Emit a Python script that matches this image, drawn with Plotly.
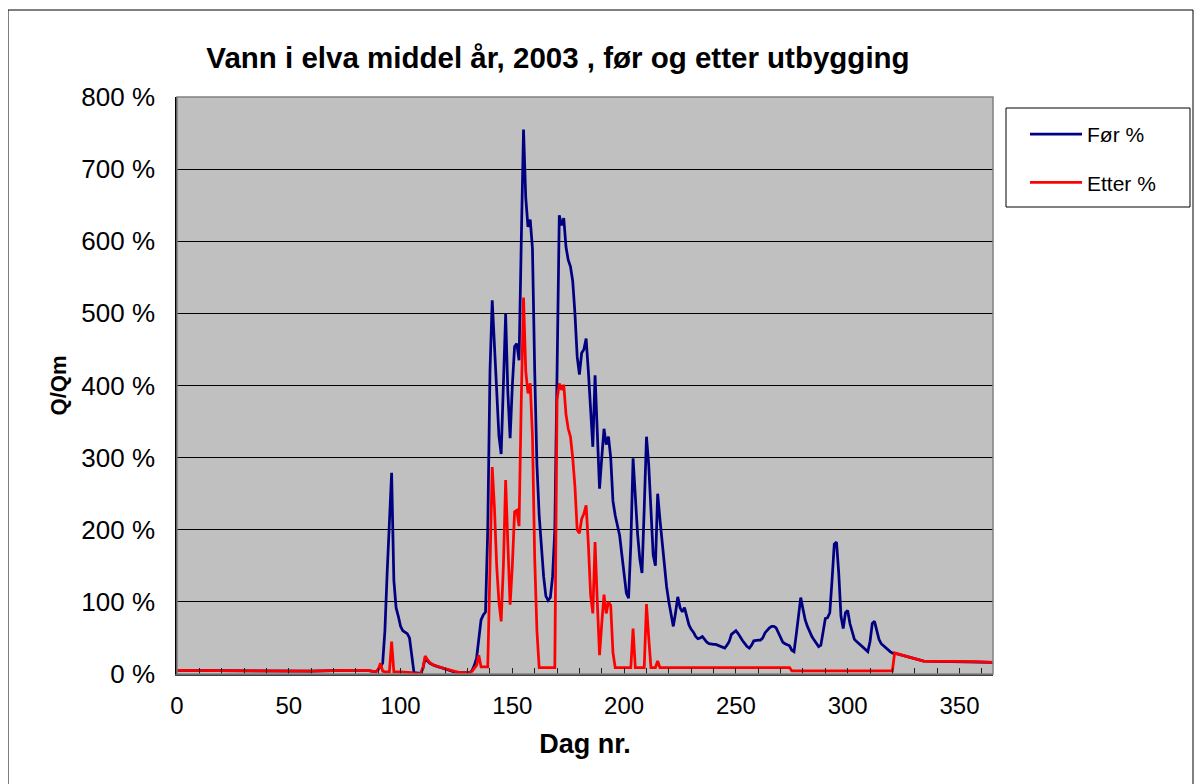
import plotly.graph_objects as go

# ---- data ----
days_for = [0, 20, 40, 60, 75, 85, 89, 90, 91, 92, 93, 94, 95, 96, 97, 98, 99, 100, 101, 102, 103, 104, 105, 106,
            109, 110, 111, 112, 113, 115, 118, 121, 124, 127, 131, 132, 133, 134, 135, 136, 137, 138, 139, 140,
            141, 142, 143, 144, 145, 146, 147, 148, 149, 150, 151, 152, 153, 154, 155, 156, 157, 158, 159, 160,
            161, 162, 163, 164, 165, 166, 167, 168, 169, 170, 171, 172, 173, 174, 175, 176, 177, 178, 179, 180,
            181, 182, 183, 184, 185, 186, 187, 188, 189, 190, 191, 192, 193, 194, 195, 196, 197, 198, 199, 200,
            201, 202, 203, 204, 205, 206, 207, 208, 209, 210, 211, 212, 213, 214, 215, 216, 217, 218, 219, 220,
            221, 222, 223, 224, 225, 226, 227, 228, 229, 230, 231, 232, 233, 234, 235, 236, 237, 238, 239, 240,
            241, 242, 243, 244, 245, 246, 247, 248, 249, 250, 251, 252, 253, 254, 255, 256, 257, 258, 259, 260,
            261, 262, 263, 264, 265, 266, 267, 268, 269, 270, 271, 272, 273, 274, 275, 276, 277, 278, 279, 280,
            281, 282, 283, 284, 285, 286, 287, 288, 289, 290, 291, 292, 293, 294, 295, 296, 297, 298, 299, 300,
            301, 302, 303, 304, 305, 306, 307, 308, 309, 310, 311, 312, 313, 314, 315, 316, 317, 318, 319, 320,
            321, 334, 357, 365]
pct_for = [5, 4.5, 4, 4, 5, 5, 3, 6, 10, 15, 60, 140, 220, 279, 130, 92, 80, 66, 60, 58, 56, 50, 25, 2,
           1, 8, 22, 18, 15, 12, 9, 6, 3, 2, 2, 5, 12, 22, 50, 75, 82, 86, 200, 420,
           518, 450, 380, 330, 305, 420, 499, 390, 327, 400, 454, 458, 435, 600, 755, 660, 620, 630, 590, 420,
           290, 220, 170, 135, 108, 102, 106, 135, 200, 420, 636, 622, 632, 592, 574, 565, 545, 500, 440, 415,
           445, 450, 465, 420, 360, 315, 414, 340, 257, 300, 340, 318, 329, 300, 240, 220, 205, 192, 165, 135,
           112, 105, 180, 299, 240, 195, 160, 140, 230, 329, 290, 232, 165, 150, 250, 215, 180, 150, 121, 100,
           82, 66, 85, 107, 92, 86, 92, 80, 68, 62, 58, 52, 49, 50, 52, 48, 44, 42, 41, 41,
           41, 40, 38, 37, 36, 40, 45, 55, 58, 60, 56, 50, 46, 42, 38, 36, 40, 46, 47, 47,
           47, 50, 57, 61, 64, 66, 66, 64, 57, 50, 44, 42, 41, 39, 33, 31, 55, 85, 106, 90,
           75, 66, 58, 52, 47, 42, 38, 40, 62, 77, 78, 85, 130, 180, 183, 140, 80, 63, 85, 88,
           70, 58, 48, 45, 42, 40, 37, 34, 31, 45, 70, 73, 62, 48, 42, 39, 36, 33, 31, 29,
           29, 18, 17, 16]

days_etter = [0, 20, 40, 60, 75, 85, 89, 90, 91, 92, 93, 95, 96, 97, 100, 105, 106, 109, 110, 111, 112, 113, 114,
              115, 117, 119, 121, 123, 125, 127, 131, 132, 133, 134, 135, 136, 139, 140, 141, 142, 143, 144, 145,
              146, 147, 148, 149, 150, 151, 152, 153, 154, 155, 156, 157, 158, 159, 160, 161, 162, 169, 170, 171,
              172, 173, 174, 175, 176, 177, 178, 179, 180, 181, 182, 183, 184, 185, 186, 187, 188, 189, 190, 191,
              192, 193, 194, 195, 196, 203, 204, 205, 209, 210, 211, 212, 214, 215, 216, 274, 275, 320, 321, 334,
              357, 365]
pct_etter = [5, 4.5, 4, 4, 5, 5, 3, 6, 15, 4, 3, 3, 45, 3, 3, 2, 0.5, 0.5, 8, 25, 20, 16, 14,
             12, 10, 8, 6, 4, 3, 2, 2, 4, 8, 12, 26, 10, 10, 150, 287, 230, 150, 100, 73,
             150, 269, 180, 96, 150, 225, 227, 205, 380, 522, 420, 389, 403, 330, 160, 60, 9, 9, 380, 403,
             394, 401, 360, 340, 329, 300, 260, 200, 195, 215, 222, 234, 180, 110, 84, 183, 100, 26, 70, 110,
             84, 100, 95, 30, 9, 9, 63, 9, 9, 97, 50, 9, 9, 18, 9, 9, 4.5, 4.5, 29, 18,
             17, 16]

y_ticks = [0, 100, 200, 300, 400, 500, 600, 700, 800]
y_tick_text = ["0 %", "100 %", "200 %", "300 %", "400 %", "500 %", "600 %", "700 %", "800 %"]
x_ticks = [0, 50, 100, 150, 200, 250, 300, 350]

title_text = "Vann i elva middel år, 2003 , før og etter utbygging"
FONT = "Liberation Sans, Arial, sans-serif"

# ---- geometry (figure pixels; the page puts the figure 8 px in from the corner) ----
OFF = 8
W, H = 1202 - OFF, 784 - OFF
L, R, T, B = 177 - OFF, 993 - OFF, 97 - OFF, 674 - OFF
pw, ph = R - L, B - T


def px(x):  # screen x -> paper
    return (x - OFF - L) / pw


def py(y):  # screen y -> paper
    return (B - (y - OFF)) / ph


fig = go.Figure()
fig.add_trace(go.Scatter(x=days_for, y=pct_for, mode="lines", name="Før %",
                         legendgroup="a", line=dict(color="#000080", width=2.75)))
fig.add_trace(go.Scatter(x=days_etter, y=pct_etter, mode="lines", name="Etter %",
                         legendgroup="b", line=dict(color="#FF0000", width=2.75)))

fig.update_layout(
    width=W, height=H,
    margin=dict(l=L, r=W - R, t=T, b=H - B, pad=0),
    paper_bgcolor="white",
    plot_bgcolor="#C0C0C0",
    font=dict(family=FONT, color="black"),
    title=dict(text=title_text, font=dict(size=29.5, family=FONT, color="black", weight="bold"),
               x=(558 - OFF) / W, xanchor="center", xref="container",
               y=1 - (58 - OFF) / H, yanchor="middle", yref="container"),
    showlegend=True,
    legend=dict(x=px(1025), y=py(114), xanchor="left", yanchor="top",
                font=dict(size=21, family=FONT), bgcolor="rgba(0,0,0,0)", itemwidth=52,
                borderwidth=0, traceorder="grouped", tracegroupgap=18),
    xaxis=dict(range=[0, 365], tickvals=x_ticks, showgrid=False, zeroline=False,
               showline=True, linecolor="#404040", linewidth=1.5,
               ticks="inside", ticklen=6, tickcolor="#202020",
               minor=dict(dtick=10, ticks="inside", ticklen=6, tickcolor="#202020", showgrid=False),
               tickfont=dict(size=24, family=FONT), ticklabelstandoff=9,
               title=dict(text="Dag nr.", font=dict(size=27, family=FONT, weight="bold"), standoff=17)),
    yaxis=dict(range=[0, 800], tickvals=y_ticks, ticktext=y_tick_text,
               showgrid=True, gridcolor="black", gridwidth=1.3, zeroline=False,
               showline=True, linecolor="black", linewidth=1.5, ticks="",
               tickfont=dict(size=26, family=FONT), ticklabelstandoff=15,
               title=dict(text="Q/Qm", font=dict(size=22, family=FONT, weight="bold"), standoff=9)),
    shapes=[
        # plot-area frame (top / right)
        dict(type="rect", xref="paper", yref="paper", x0=0, x1=1, y0=0, y1=1,
             line=dict(color="#808080", width=1.5), fillcolor="rgba(0,0,0,0)", layer="above"),
        # legend frame
        dict(type="rect", xref="paper", yref="paper", x0=px(1006), x1=px(1190), y0=py(207), y1=py(108),
             line=dict(color="black", width=1), fillcolor="white", layer="below"),
        # outer chart frame
        dict(type="rect", xref="paper", yref="paper", x0=px(8), x1=px(1193), y0=py(790), y1=py(10),
             line=dict(color="black", width=1), fillcolor="rgba(0,0,0,0)", layer="above"),
    ],
)

fig.write_html("out.html")
